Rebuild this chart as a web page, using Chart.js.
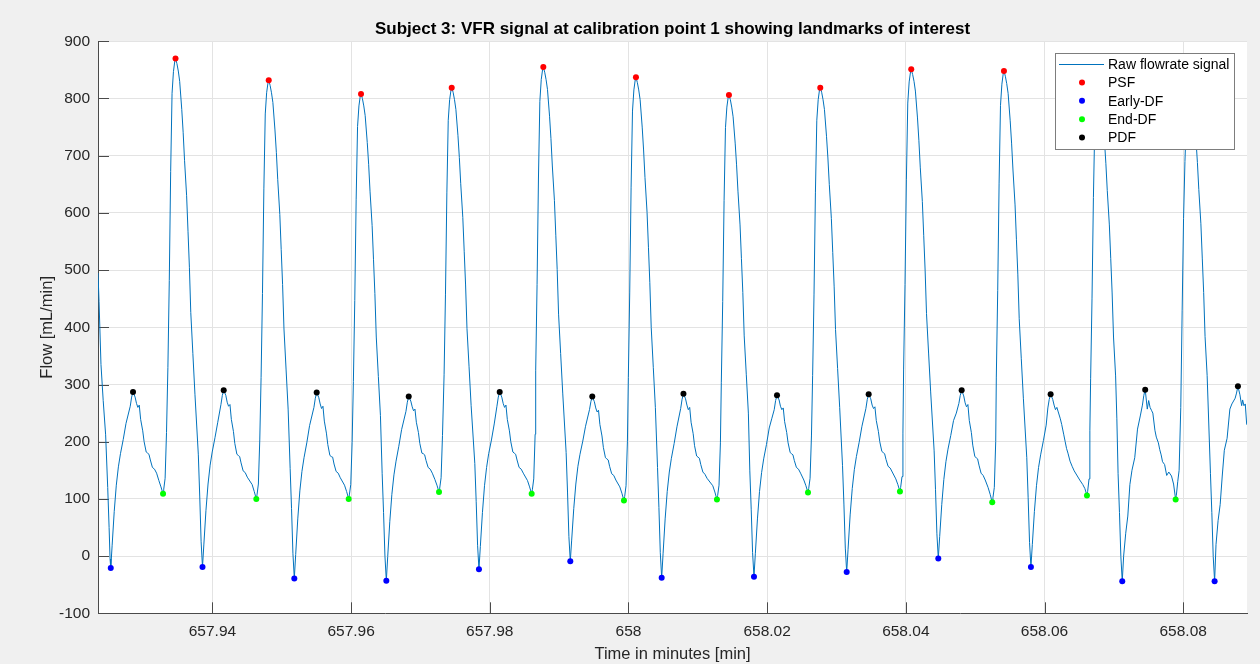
<!DOCTYPE html>
<html>
<head>
<meta charset="utf-8">
<script src="https://cdn.jsdelivr.net/npm/chart.js@4.4.1/dist/chart.umd.min.js"></script>
<style>
  html, body { margin: 0; padding: 0; background: #f0f0f0; }
  canvas { display: block; }
</style>
</head>
<body>
<canvas id="flowChart" width="1260" height="664"></canvas>
<script>
// Landmark times (minutes) and flow values (mL/min)
const psfTime   = [657.93468, 657.94812, 657.96143, 657.97451, 657.98772, 658.00108, 658.01449, 658.02766, 658.04078, 658.05415, 658.06775, 658.08095];
const psfFlow   = [870, 832, 808, 819, 855, 837, 806, 819, 851, 848, 810, 812];
const earlyTime = [657.92534, 657.93857, 657.95181, 657.96508, 657.97844, 657.99161, 658.00479, 658.01810, 658.03147, 658.04468, 658.05804, 658.07121, 658.08453];
const earlyFlow = [-21, -19, -39, -43, -23, -9, -38, -36, -28, -4, -19, -44, -44];
const endTime   = [657.93288, 657.94633, 657.95965, 657.97268, 657.98604, 657.99935, 658.01276, 658.02589, 658.03915, 658.05246, 658.06612, 658.07891];
const endFlow   = [109, 100, 100, 112, 109, 97, 99, 111, 113, 94, 106, 99];
const pdfTime   = [657.92855, 657.94163, 657.95504, 657.96831, 657.98143, 657.99478, 658.00793, 658.02142, 658.03464, 658.04805, 658.06088, 658.07452, 658.08789];
const pdfFlow   = [287, 290, 286, 279, 287, 279, 284, 281, 283, 290, 283, 291, 297];

// Raw flowrate signal: [time (min), flow (mL/min)]
const rawSignal = [
  [657.92350, 495], [657.92365, 445], [657.92393, 335], [657.92425, 272], [657.92460, 212], [657.92490, 120], [657.92510, 50], [657.92524, -5],
  [657.92534, -21], [657.92554, 19], [657.92584, 78], [657.92614, 124], [657.92644, 156], [657.92674, 179], [657.92714, 204], [657.92754, 232], [657.92815, 262], [657.92835, 278],
  [657.92855, 287], [657.92885, 278], [657.92905, 267], [657.92925, 260], [657.92945, 264], [657.92965, 239], [657.92995, 219], [657.93015, 200], [657.93045, 182], [657.93065, 180], [657.93085, 178], [657.93105, 168], [657.93135, 155], [657.93165, 152], [657.93195, 145], [657.93228, 132], [657.93258, 121],
  [657.93288, 109], [657.93298, 117], [657.93318, 136], [657.93338, 216], [657.93358, 330], [657.93378, 482], [657.93398, 672], [657.93418, 809], [657.93438, 847], [657.93458, 866],
  [657.93468, 870], [657.93488, 861], [657.93508, 848], [657.93528, 830], [657.93558, 781], [657.93578, 741], [657.93598, 692], [657.93628, 630], [657.93648, 568], [657.93668, 505], [657.93688, 426], [657.93718, 354], [657.93748, 283], [657.93797, 177], [657.93817, 105], [657.93837, 25],

  [657.93857, -19], [657.93877, 21], [657.93907, 80], [657.93937, 126], [657.93967, 159], [657.93997, 182], [657.94037, 207], [657.94077, 234], [657.94123, 265], [657.94143, 281],
  [657.94163, 290], [657.94193, 281], [657.94213, 269], [657.94233, 262], [657.94253, 265], [657.94273, 239], [657.94303, 218], [657.94323, 197], [657.94353, 178], [657.94373, 176], [657.94393, 174], [657.94413, 163], [657.94443, 149], [657.94473, 146], [657.94503, 138], [657.94573, 125], [657.94603, 113],
  [657.94633, 100], [657.94643, 107], [657.94663, 126], [657.94683, 203], [657.94702, 312], [657.94722, 459], [657.94742, 642], [657.94762, 773], [657.94782, 810], [657.94802, 828],
  [657.94812, 832], [657.94832, 823], [657.94852, 810], [657.94872, 793], [657.94902, 745], [657.94922, 706], [657.94942, 658], [657.94972, 597], [657.94992, 536], [657.95012, 475], [657.95032, 397], [657.95062, 327], [657.95092, 257], [657.95121, 153], [657.95141, 83], [657.95161, 5],

  [657.95181, -39], [657.95201, 3], [657.95231, 65], [657.95261, 114], [657.95291, 148], [657.95321, 172], [657.95361, 198], [657.95401, 228], [657.95464, 260], [657.95484, 276],
  [657.95504, 286], [657.95534, 277], [657.95554, 266], [657.95574, 258], [657.95594, 262], [657.95614, 236], [657.95644, 215], [657.95664, 195], [657.95694, 176], [657.95714, 174], [657.95734, 173], [657.95754, 161], [657.95784, 148], [657.95814, 145], [657.95844, 137], [657.95905, 124], [657.95935, 113],
  [657.95965, 100], [657.95975, 107], [657.95995, 125], [657.96015, 199], [657.96033, 305], [657.96053, 447], [657.96073, 624], [657.96093, 751], [657.96113, 787], [657.96133, 805],
  [657.96143, 808], [657.96163, 800], [657.96183, 787], [657.96203, 770], [657.96233, 723], [657.96253, 685], [657.96273, 638], [657.96303, 578], [657.96323, 519], [657.96343, 459], [657.96363, 383], [657.96393, 314], [657.96423, 246], [657.96448, 144], [657.96468, 76], [657.96488, 0],

  [657.96508, -43], [657.96528, -1], [657.96558, 60], [657.96588, 108], [657.96618, 142], [657.96648, 166], [657.96688, 192], [657.96728, 221], [657.96791, 253], [657.96811, 269],
  [657.96831, 279], [657.96861, 271], [657.96881, 261], [657.96901, 254], [657.96921, 257], [657.96941, 234], [657.96971, 216], [657.96991, 197], [657.97021, 180], [657.97041, 179], [657.97061, 177], [657.97081, 167], [657.97111, 155], [657.97141, 152], [657.97171, 145], [657.97208, 134], [657.97238, 124],
  [657.97268, 112], [657.97278, 119], [657.97298, 137], [657.97318, 211], [657.97341, 317], [657.97361, 458], [657.97381, 635], [657.97401, 762], [657.97421, 798], [657.97441, 815],
  [657.97451, 819], [657.97471, 811], [657.97491, 798], [657.97511, 781], [657.97541, 735], [657.97561, 697], [657.97581, 651], [657.97611, 592], [657.97631, 533], [657.97651, 474], [657.97671, 398], [657.97701, 331], [657.97731, 263], [657.97784, 162], [657.97804, 95], [657.97824, 19],

  [657.97844, -23], [657.97864, 17], [657.97894, 76], [657.97924, 123], [657.97954, 155], [657.97984, 179], [657.98024, 203], [657.98064, 231], [657.98103, 262], [657.98123, 278],
  [657.98143, 287], [657.98173, 278], [657.98193, 267], [657.98213, 260], [657.98233, 264], [657.98253, 239], [657.98283, 219], [657.98303, 200], [657.98333, 182], [657.98353, 180], [657.98373, 178], [657.98393, 168], [657.98423, 155], [657.98453, 152], [657.98483, 145], [657.98544, 132], [657.98574, 121],
  [657.98604, 109], [657.98614, 116], [657.98634, 135], [657.98654, 213], [657.98662, 325], [657.98682, 475], [657.98702, 661], [657.98722, 795], [657.98742, 833], [657.98762, 851],
  [657.98772, 855], [657.98792, 846], [657.98812, 833], [657.98832, 816], [657.98862, 769], [657.98882, 730], [657.98902, 682], [657.98932, 622], [657.98952, 561], [657.98972, 501], [657.98992, 423], [657.99022, 354], [657.99052, 285], [657.99101, 181], [657.99121, 112], [657.99141, 34],

  [657.99161, -9], [657.99181, 28], [657.99211, 83], [657.99241, 126], [657.99271, 157], [657.99301, 178], [657.99341, 201], [657.99381, 227], [657.99438, 256], [657.99458, 270],
  [657.99478, 279], [657.99508, 270], [657.99528, 259], [657.99548, 252], [657.99568, 255], [657.99588, 230], [657.99618, 210], [657.99638, 190], [657.99668, 172], [657.99688, 170], [657.99708, 168], [657.99728, 157], [657.99758, 144], [657.99788, 141], [657.99818, 133], [657.99875, 121], [657.99905, 110],
  [657.99935, 97], [657.99945, 104], [657.99965, 123], [657.99985, 201], [657.99998, 312], [658.00018, 460], [658.00038, 645], [658.00058, 778], [658.00078, 815], [658.00098, 833],
  [658.00108, 837], [658.00128, 828], [658.00148, 815], [658.00168, 798], [658.00198, 750], [658.00218, 710], [658.00238, 662], [658.00268, 601], [658.00288, 540], [658.00308, 478], [658.00328, 400], [658.00358, 330], [658.00388, 260], [658.00419, 155], [658.00439, 85], [658.00459, 6],

  [658.00479, -38], [658.00499, 4], [658.00529, 65], [658.00559, 113], [658.00589, 147], [658.00619, 171], [658.00659, 197], [658.00699, 226], [658.00753, 258], [658.00773, 274],
  [658.00793, 284], [658.00823, 275], [658.00843, 264], [658.00863, 256], [658.00883, 260], [658.00903, 234], [658.00933, 214], [658.00953, 193], [658.00983, 175], [658.01003, 173], [658.01023, 171], [658.01043, 160], [658.01073, 147], [658.01103, 143], [658.01133, 136], [658.01216, 123], [658.01246, 112],
  [658.01276, 99], [658.01286, 106], [658.01306, 124], [658.01326, 198], [658.01339, 304], [658.01359, 445], [658.01379, 622], [658.01399, 749], [658.01419, 785], [658.01439, 803],
  [658.01449, 806], [658.01469, 798], [658.01489, 785], [658.01509, 768], [658.01539, 722], [658.01559, 684], [658.01579, 638], [658.01609, 579], [658.01629, 520], [658.01649, 461], [658.01669, 385], [658.01699, 318], [658.01729, 250], [658.01750, 149], [658.01770, 82], [658.01790, 6],

  [658.01810, -36], [658.01830, 5], [658.01860, 65], [658.01890, 113], [658.01920, 146], [658.01950, 170], [658.01990, 195], [658.02030, 224], [658.02066, 240], [658.02102, 256], [658.02122, 272],
  [658.02142, 281], [658.02172, 273], [658.02192, 262], [658.02212, 256], [658.02232, 259], [658.02252, 235], [658.02282, 216], [658.02302, 198], [658.02332, 181], [658.02352, 179], [658.02372, 177], [658.02392, 167], [658.02422, 155], [658.02452, 152], [658.02482, 145], [658.02529, 133], [658.02559, 123],
  [658.02589, 111], [658.02599, 118], [658.02619, 136], [658.02639, 210], [658.02656, 316], [658.02676, 458], [658.02696, 635], [658.02716, 762], [658.02736, 798], [658.02756, 816],
  [658.02766, 819], [658.02786, 811], [658.02806, 798], [658.02826, 781], [658.02856, 734], [658.02876, 696], [658.02896, 650], [658.02926, 590], [658.02946, 531], [658.02966, 472], [658.02986, 396], [658.03016, 328], [658.03046, 260], [658.03087, 158], [658.03107, 91], [658.03127, 14],

  [658.03147, -28], [658.03167, 12], [658.03197, 72], [658.03227, 118], [658.03257, 151], [658.03287, 174], [658.03327, 199], [658.03367, 227], [658.03424, 258], [658.03444, 274],
  [658.03464, 283], [658.03494, 275], [658.03514, 264], [658.03534, 258], [658.03554, 261], [658.03574, 237], [658.03604, 218], [658.03624, 200], [658.03654, 183], [658.03674, 181], [658.03694, 179], [658.03714, 169], [658.03744, 157], [658.03774, 154], [658.03804, 147], [658.03855, 135], [658.03885, 125],
  [658.03915, 113], [658.03925, 120], [658.03945, 139], [658.03958, 215], [658.03968, 327], [658.03988, 475], [658.04008, 659], [658.04028, 792], [658.04048, 829], [658.04068, 847],
  [658.04078, 851], [658.04098, 842], [658.04118, 830], [658.04138, 813], [658.04168, 766], [658.04188, 727], [658.04208, 680], [658.04238, 620], [658.04258, 560], [658.04278, 500], [658.04298, 424], [658.04328, 355], [658.04358, 287], [658.04408, 184], [658.04428, 116], [658.04448, 39],

  [658.04468, -4], [658.04488, 34], [658.04518, 90], [658.04548, 134], [658.04578, 165], [658.04608, 187], [658.04648, 211], [658.04688, 237], [658.04728, 250], [658.04765, 267], [658.04785, 281],
  [658.04805, 290], [658.04835, 280], [658.04855, 268], [658.04875, 261], [658.04895, 265], [658.04915, 237], [658.04945, 216], [658.04965, 194], [658.04995, 174], [658.05015, 172], [658.05035, 170], [658.05055, 159], [658.05085, 145], [658.05115, 141], [658.05145, 133], [658.05186, 120], [658.05216, 108],
  [658.05246, 94], [658.05256, 102], [658.05276, 120], [658.05296, 200], [658.05305, 313], [658.05325, 464], [658.05345, 652], [658.05365, 788], [658.05385, 825], [658.05405, 844],
  [658.05415, 848], [658.05435, 839], [658.05455, 826], [658.05475, 809], [658.05505, 761], [658.05525, 722], [658.05545, 675], [658.05575, 614], [658.05595, 553], [658.05615, 493], [658.05635, 415], [658.05665, 345], [658.05695, 276], [658.05744, 172], [658.05764, 102], [658.05784, 24],

  [658.05804, -19], [658.05824, 20], [658.05854, 78], [658.05884, 123], [658.05914, 155], [658.05944, 177], [658.05984, 202], [658.06024, 229], [658.06048, 259], [658.06068, 274],
  [658.06088, 283], [658.06118, 274], [658.06138, 264], [658.06158, 256], [658.06178, 260], [658.06198, 252], [658.06228, 240], [658.06248, 230], [658.06278, 212], [658.06298, 200], [658.06318, 188], [658.06338, 180], [658.06368, 166], [658.06398, 157], [658.06428, 149], [658.06508, 133], [658.06552, 125], [658.06582, 118],
  [658.06612, 106], [658.06622, 113], [658.06642, 135], [658.06654, 220], [658.06665, 310], [658.06685, 451], [658.06705, 627], [658.06725, 754], [658.06745, 789], [658.06765, 807],
  [658.06775, 810], [658.06795, 801], [658.06815, 789], [658.06835, 772], [658.06865, 725], [658.06885, 686], [658.06905, 639], [658.06935, 579], [658.06955, 520], [658.06975, 460], [658.06995, 383], [658.07025, 315], [658.07043, 240], [658.07061, 144], [658.07081, 76], [658.07101, -1],

  [658.07121, -44], [658.07141, 0], [658.07171, 40], [658.07201, 70], [658.07231, 125], [658.07261, 150], [658.07301, 172], [658.07341, 222], [658.07381, 245], [658.07412, 264], [658.07432, 281],
  [658.07452, 291], [658.07482, 257], [658.07502, 272], [658.07522, 260], [658.07542, 255], [658.07562, 250], [658.07592, 220], [658.07612, 208], [658.07642, 198], [658.07662, 186], [658.07682, 177], [658.07702, 165], [658.07732, 160], [658.07762, 141], [658.07792, 147], [658.07831, 140], [658.07861, 126],
  [658.07891, 99], [658.07901, 106], [658.07921, 130], [658.07941, 150], [658.07965, 260], [658.07985, 430], [658.08005, 590], [658.08025, 690], [658.08045, 760], [658.08065, 795], [658.08085, 810],
  [658.08095, 812], [658.08115, 803], [658.08135, 791], [658.08155, 774], [658.08185, 726], [658.08205, 688], [658.08225, 641], [658.08255, 581], [658.08275, 521], [658.08295, 461], [658.08315, 384], [658.08345, 316], [658.08393, 144], [658.08413, 76], [658.08433, -1],

  [658.08453, -44], [658.08473, 20], [658.08503, 62], [658.08533, 90], [658.08563, 140], [658.08593, 185], [658.08633, 206], [658.08673, 257], [658.08702, 266], [658.08749, 276], [658.08769, 285],
  [658.08789, 297], [658.08818, 282], [658.08843, 263], [658.08857, 273], [658.08876, 263], [658.08895, 266], [658.08915, 231], [658.08930, 228]
];

// Axis ticks and range
const xTicks = [657.94, 657.96, 657.98, 658.00, 658.02, 658.04, 658.06, 658.08];
const yTicks = [-100, 0, 100, 200, 300, 400, 500, 600, 700, 800, 900];
const xRange = [657.9235, 658.0892];
const yRange = [-100, 900];
const chartTitle = 'Subject 3: VFR signal at calibration point 1 showing landmarks of interest';

const toPoints = (ts, vs) => ts.map((t, i) => ({ x: t, y: vs[i] }));
const FONT = 'Liberation Sans, Arial, sans-serif';
const AXIS_COLOR = '#4a4a4a';

// White plotting area on grey figure background
const plotBackground = {
  id: 'plotBackground',
  beforeDraw(chart) {
    const { ctx, chartArea: a } = chart;
    ctx.save();
    ctx.fillStyle = '#ffffff';
    ctx.fillRect(a.left, a.top, a.right - a.left, a.bottom - a.top);
    ctx.restore();
  }
};

// Bold title centred over the plotting area
const axesTitle = {
  id: 'axesTitle',
  afterDraw(chart) {
    const { ctx, chartArea: a } = chart;
    ctx.save();
    ctx.font = 'bold 17px ' + FONT;
    ctx.fillStyle = '#000000';
    ctx.textAlign = 'center';
    ctx.textBaseline = 'middle';
    ctx.fillText(chartTitle, (a.left + a.right) / 2, a.top - 11.5);
    ctx.restore();
  }
};

// Tick marks pointing into the plotting area
const innerTicks = {
  id: 'innerTicks',
  beforeDatasetsDraw(chart) {
    const { ctx, chartArea: a, scales } = chart;
    const len = 11;
    ctx.save();
    ctx.strokeStyle = AXIS_COLOR;
    ctx.lineWidth = 1;
    ctx.beginPath();
    scales.x.ticks.forEach(t => {
      const px = Math.round(scales.x.getPixelForValue(t.value)) + 0.5;
      ctx.moveTo(px, a.bottom);
      ctx.lineTo(px, a.bottom - len);
    });
    scales.y.ticks.forEach(t => {
      const py = Math.round(scales.y.getPixelForValue(t.value)) + 0.5;
      ctx.moveTo(a.left, py);
      ctx.lineTo(a.left + len, py);
    });
    ctx.stroke();
    ctx.restore();
  }
};

// Boxed legend drawn over the data in the upper right corner
const boxedLegend = {
  id: 'boxedLegend',
  afterDatasetsDraw(chart) {
    const { ctx, chartArea: a } = chart;
    const ds = chart.data.datasets;
    const entries = [ds[4], ds[0], ds[1], ds[2], ds[3]];
    const w = 179, h = 96;
    const x0 = Math.round(a.right - 12.7 - w), y0 = Math.round(a.top + 12);
    ctx.save();
    ctx.fillStyle = '#ffffff';
    ctx.fillRect(x0, y0, w, h);
    ctx.strokeStyle = '#7d7d7d';
    ctx.lineWidth = 1;
    ctx.strokeRect(x0 + 0.5, y0 + 0.5, w, h);
    ctx.font = '14px ' + FONT;
    ctx.textBaseline = 'middle';
    ctx.textAlign = 'left';
    entries.forEach((d, i) => {
      const cy = y0 + 11 + i * 18.4;
      if (d.showLine === false) {
        ctx.fillStyle = d.backgroundColor;
        ctx.beginPath();
        ctx.arc(x0 + 27, cy, 3, 0, Math.PI * 2);
        ctx.fill();
      } else {
        ctx.strokeStyle = d.borderColor;
        ctx.lineWidth = 1;
        ctx.beginPath();
        ctx.moveTo(x0 + 4, Math.round(cy) + 0.5);
        ctx.lineTo(x0 + 49, Math.round(cy) + 0.5);
        ctx.stroke();
      }
      ctx.fillStyle = '#000000';
      ctx.fillText(d.label, x0 + 53, cy + 1);
    });
    ctx.restore();
  }
};

const markerSet = (label, ts, vs, color) => ({
  label, type: 'scatter', data: toPoints(ts, vs), showLine: false,
  backgroundColor: color, borderWidth: 0, pointRadius: 3, pointHoverRadius: 3, order: 0
});

new Chart(document.getElementById('flowChart'), {
  type: 'line',
  data: {
    datasets: [
      markerSet('PSF', psfTime, psfFlow, '#ff0000'),
      markerSet('Early-DF', earlyTime, earlyFlow, '#0000ff'),
      markerSet('End-DF', endTime, endFlow, '#00ff00'),
      markerSet('PDF', pdfTime, pdfFlow, '#000000'),
      {
        label: 'Raw flowrate signal',
        data: rawSignal.map(([t, v]) => ({ x: t, y: v })),
        borderColor: '#0072bd', borderWidth: 1, pointRadius: 0, tension: 0, fill: false, order: 1
      }
    ]
  },
  options: {
    responsive: false,
    animation: false,
    devicePixelRatio: 1,
    layout: { padding: { left: 0, right: 13, top: 41.3, bottom: 0 }, autoPadding: false },
    plugins: {
      legend: { display: false },
      tooltip: { enabled: false },
      title: { display: false }
    },
    scales: {
      x: {
        type: 'linear',
        min: xRange[0], max: xRange[1],
        afterBuildTicks: s => { s.ticks = xTicks.map(v => ({ value: v })); },
        afterFit: s => { s.height = 50.7; },
        grid: { color: '#e3e3e3', drawTicks: false },
        border: { color: AXIS_COLOR, width: 1 },
        ticks: {
          color: '#262626', padding: 9,
          font: { family: FONT, size: 15.5 },
          maxRotation: 0,
          callback: v => String(+Number(v).toFixed(2))
        },
        title: {
          display: true, text: 'Time in minutes [min]', color: '#262626',
          font: { family: FONT, size: 16.5, lineHeight: 1.2 },
          padding: { top: 0, bottom: 0 }
        }
      },
      y: {
        type: 'linear',
        min: yRange[0], max: yRange[1],
        afterBuildTicks: s => { s.ticks = yTicks.map(v => ({ value: v })); },
        afterFit: s => { s.width = 98; },
        grid: { color: '#e3e3e3', drawTicks: false },
        border: { color: AXIS_COLOR, width: 1 },
        ticks: {
          color: '#262626', padding: 8,
          font: { family: FONT, size: 15.5 }
        },
        title: {
          display: true, text: 'Flow [mL/min]', color: '#262626',
          font: { family: FONT, size: 16.5, lineHeight: 1.2 },
          padding: { top: 38, bottom: 0 }
        }
      }
    }
  },
  plugins: [plotBackground, innerTicks, boxedLegend, axesTitle]
});
</script>
</body>
</html>
